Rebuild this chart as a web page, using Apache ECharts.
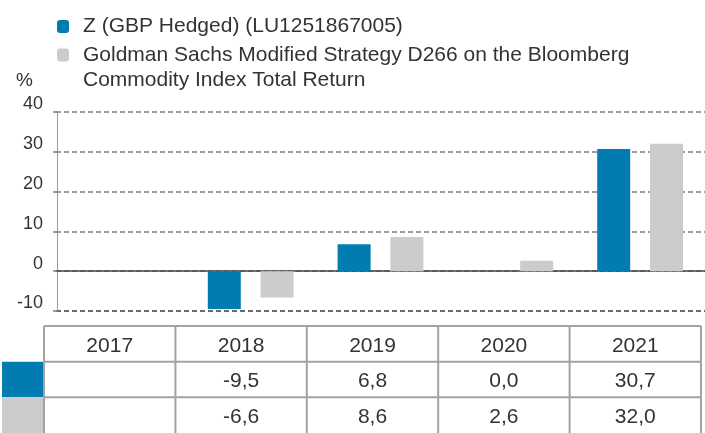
<!DOCTYPE html>
<html>
<head>
<meta charset="utf-8">
<script src="https://cdn.jsdelivr.net/npm/echarts@6/dist/echarts.min.js"></script>
<style>
html,body{margin:0;padding:0;background:#fff;}
#chart{width:705px;height:433px;}
</style>
</head>
<body>
<div id="chart"></div>
<script>
// ---- data ----
var years = ['2017', '2018', '2019', '2020', '2021'];
var fundName = 'Z (GBP Hedged) (LU1251867005)';
var benchName = 'Goldman Sachs Modified Strategy D266 on the Bloomberg\nCommodity Index Total Return';
var fundValues = [null, -9.5, 6.8, 0.0, 30.7];
var benchValues = [null, -6.6, 8.6, 2.6, 32.0];
var tableRows = ['head', 'fund', 'bench'];
var yMin = -10, yMax = 40, yStep = 10;

var BLUE = '#007cb1';
var GREY = '#cccccc';
var TEXT = '#333333';
var FONT = '"Liberation Sans", Arial, sans-serif';

function fmt(v) {
  if (v === null || v === undefined) return '';
  return v.toFixed(1).replace('.', ',');
}

var tableCells = [];
for (var r = 0; r < tableRows.length; r++) {
  for (var c = 0; c < years.length; c++) tableCells.push([c, r]);
}

var chart = echarts.init(document.getElementById('chart'), null, {renderer: 'canvas'});

var option = {
  animation: false,
  backgroundColor: '#fff',
  textStyle: {fontFamily: FONT, color: TEXT},
  legend: {
    orient: 'vertical',
    left: 57,
    top: 14,
    padding: 0,
    itemWidth: 12,
    itemHeight: 13,
    itemGap: -21.5,
    selectedMode: false,
    data: [fundName, benchName],
    formatter: function (name) {
      return name.indexOf('\n') >= 0 ? '\n' + name : name;
    },
    textStyle: {fontFamily: FONT, fontSize: 21, color: TEXT, lineHeight: 25, padding: [0, 0, 0, 9]}
  },
  grid: [
    {left: 56, top: 112, width: 656, height: 199, containLabel: false},
    {left: 44, top: 326, width: 657, height: 112, containLabel: false}
  ],
  xAxis: [
    {
      type: 'category', gridIndex: 0, data: years,
      axisLabel: {show: false}, axisTick: {show: false},
      axisLine: {show: true, onZero: true, lineStyle: {color: '#444', width: 1.5}},
      splitLine: {show: false}
    },
    {
      type: 'category', gridIndex: 1, data: years, show: false
    }
  ],
  yAxis: [
    {
      type: 'value', gridIndex: 0, min: yMin, max: yMax, interval: yStep, offset: -1,
      name: '%', nameLocation: 'end', nameGap: 22,
      nameTextStyle: {fontFamily: FONT, fontSize: 19, color: TEXT, align: 'right', verticalAlign: 'bottom', padding: [0, 24, 0, 0]},
      axisLine: {show: true, lineStyle: {color: '#999', width: 1}},
      axisTick: {show: true, length: 4, lineStyle: {color: '#808080', width: 1.5}},
      axisLabel: {fontFamily: FONT, fontSize: 18, lineHeight: 15, color: TEXT, margin: 14, verticalAlign: 'bottom'},
      splitLine: {show: true, lineStyle: {color: ['#3a3a3a', '#7f7f7f', '#7f7f7f', '#7f7f7f', '#7f7f7f', '#7f7f7f'], width: 1.6, type: [5, 3]}}
    },
    {
      type: 'category', gridIndex: 1, data: tableRows, inverse: true, show: false
    }
  ],
  series: [
    {
      name: fundName, type: 'bar', xAxisIndex: 0, yAxisIndex: 0,
      data: fundValues, barWidth: 33, barGap: '60%',
      itemStyle: {color: BLUE}
    },
    {
      name: benchName, type: 'bar', xAxisIndex: 0, yAxisIndex: 0,
      data: benchValues, barWidth: 33, barGap: '60%',
      itemStyle: {color: GREY}
    },
    {
      name: 'table', type: 'custom', xAxisIndex: 1, yAxisIndex: 1,
      data: tableCells, silent: true, clip: false,
      renderItem: function (params, api) {
        var col = api.value(0), row = api.value(1);
        var ctr = api.coord([col, row]);
        var sz = api.size([1, 1]);
        var x0 = ctr[0] - sz[0] / 2, y0 = ctr[1] - sz[1] / 2;
        var ls = {stroke: '#a3a3a3', lineWidth: 2};
        var children = [
          {type: 'line', shape: {x1: x0, y1: y0, x2: x0 + sz[0], y2: y0}, style: ls},
          {type: 'line', shape: {x1: x0, y1: y0, x2: x0, y2: y0 + sz[1]}, style: ls}
        ];
        if (col === years.length - 1) {
          children.push({type: 'line', shape: {x1: x0 + sz[0], y1: y0, x2: x0 + sz[0], y2: y0 + sz[1]}, style: ls});
        }
        if (col === 0 && row > 0) {
          children.push({type: 'rect', shape: {x: x0 - 42, y: y0, width: 41, height: sz[1]},
            style: {fill: row === 1 ? BLUE : GREY}, z2: -1});
        }
        var txt = row === 0 ? years[col] : fmt(row === 1 ? fundValues[col] : benchValues[col]);
        children.push({type: 'text', x: ctr[0], y: ctr[1] + 2,
          style: {text: txt, fill: TEXT, font: '21px ' + FONT, align: 'center', verticalAlign: 'middle'}});
        return {type: 'group', children: children};
      }
    }
  ]
};
chart.setOption(option);
</script>
</body>
</html>
